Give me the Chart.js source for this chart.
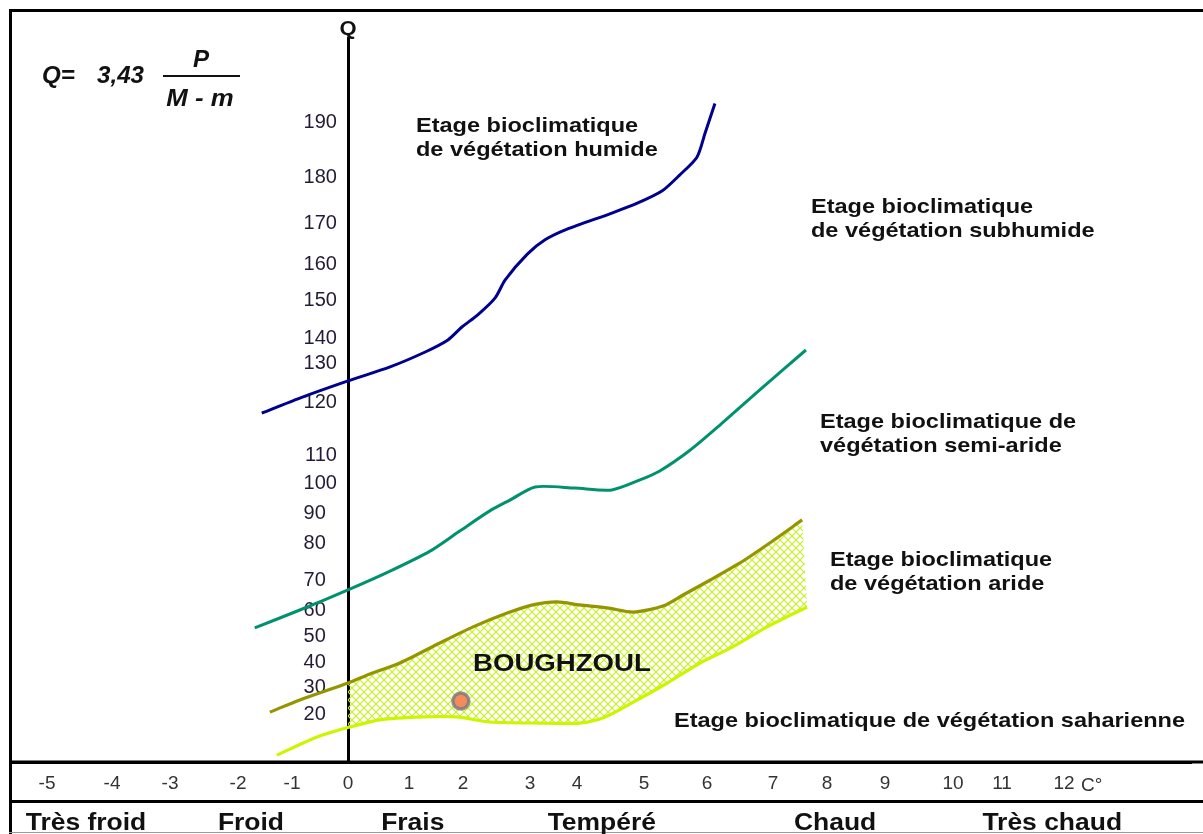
<!DOCTYPE html>
<html><head><meta charset="utf-8">
<script src="https://cdn.jsdelivr.net/npm/chart.js@4/dist/chart.umd.min.js"></script>
<style>html,body{margin:0;padding:0;background:#fff;}#wrap{width:1203px;height:834px;}</style>
</head><body><div id="wrap"><canvas id="c" width="1203" height="834"></canvas></div>
<script>
const FONT = "'Liberation Sans', Arial, Helvetica, sans-serif";

// ---- tick labels ----
const qTicks = [20, 30, 40, 50, 60, 70, 80, 90, 100, 110, 120, 130, 140, 150, 160, 170, 180, 190];
const mTicks = [-5, -4, -3, -2, -1, 0, 1, 2, 3, 4, 5, 6, 7, 8, 9, 10, 11, 12];

// ---- boundary curves (m in °C, Q) ----
const humidM = [-1.56, -0.86, 0, 0.69, 1.30, 1.72, 1.98, 2.22, 2.48, 2.63, 2.96, 3.32, 3.79, 4.49, 4.90, 5.29, 5.57, 5.84, 5.97, 6.12];
const humidQ = [117.9, 121.0, 125.4, 129.0, 134.4, 139.2, 142.9, 146.1, 150.6, 155.6, 162.4, 165.9, 168.5, 172.0, 174.3, 177.0, 180.4, 183.6, 188.0, 193.3];

const subhumidM = [-1.69, -0.86, 0, 0.69, 1.39, 1.94, 2.40, 2.70, 3.11, 3.96, 4.52, 4.94, 5.25, 5.73, 6.20, 6.80, 7.61];
const subhumidQ = [53.1, 60.0, 66.7, 72.4, 77.8, 84.0, 90.7, 94.3, 98.7, 98.3, 97.7, 101.1, 104.3, 110.9, 115.7, 123.1, 135.2];

const semiAridM = [-1.41, -0.86, 0, 0.36, 0.85, 1.57, 2.15, 2.66, 3.06, 3.57, 4.04, 4.45, 4.84, 5.30, 5.62, 6.05, 6.50, 6.95, 7.54];
const semiAridQ = [20.7, 25.2, 31.6, 35.2, 39.6, 47.3, 53.5, 58.8, 61.7, 62.7, 61.7, 60.7, 59.2, 61.3, 65.0, 70.0, 74.6, 80.0, 87.7];

const aridM = [-1.28, -0.55, 0.03, 0.52, 1.26, 1.89, 2.40, 3.21, 4.04, 4.42, 4.84, 5.37, 5.89, 6.39, 6.91, 7.63];
const aridQ = [4.6, 11.4, 15.1, 17.8, 18.9, 18.9, 17.0, 16.6, 16.6, 18.9, 24.4, 31.6, 39.6, 45.8, 53.5, 61.0];

// ---- station ----
const stationName = ['BOUGHZOUL'];
const stationM = [1.96];
const stationQ = [24.8];

// ---- thermal classes (centre of each winter class, m in °C) ----
const thermalClasses = ['Très froid', 'Froid', 'Frais', 'Tempéré', 'Chaud', 'Très chaud'];
const thermalCentres = [-4.4, -1.76, 1.07, 4.37, 8.14, 11.81];

// ---- stage names ----
const stageHumid = ['Etage bioclimatique', 'de végétation humide'];
const stageSubhumid = ['Etage bioclimatique', 'de végétation subhumide'];
const stageSemiArid = ['Etage bioclimatique de', 'végétation semi-aride'];
const stageArid = ['Etage bioclimatique', 'de végétation aride'];
const stageSaharan = ['Etage bioclimatique de végétation saharienne'];

const zip = (a, b) => a.map((v, i) => ({x: v, y: b[i]}));

// The hand-drawn Emberger graduations are not evenly spaced: piecewise scale
// (value -> reference position on the 1203 x 834 figure)
const WARP = {
  x: {size: 1203, knots: [[-5.57,10],[-5,47],[-4,112],[-3,170],[-2,238],[-1,292],[0,348],[1,409],[2,463],[3,530],[4,577],[5,644],[6,707],[7,773],[8,827],[9,885],[10,953],[11,1002],[12,1064],[14.24,1203]]},
  y: {size: 834, knots: [[2,762],[20,714],[30,687],[40,662],[50,636],[60,610],[70,580],[80,543],[90,513],[100,483],[110,455],[120,402],[130,363],[140,338],[150,300],[160,264],[170,223],[180,177],[190,122],[205,38]]}
};
function warpRef(id, v) {
  const k = WARP[id].knots;
  let i = 0;
  while (i < k.length - 2 && v > k[i + 1][0]) i++;
  return k[i][1] + (v - k[i][0]) * (k[i + 1][1] - k[i][1]) / (k[i + 1][0] - k[i][0]);
}
function unwarpRef(id, px) {
  const k = WARP[id].knots;
  const dir = Math.sign(k[1][1] - k[0][1]);
  let i = 0;
  while (i < k.length - 2 && (px - k[i + 1][1]) * dir > 0) i++;
  return k[i][0] + (px - k[i][1]) * (k[i + 1][0] - k[i][0]) / (k[i + 1][1] - k[i][1]);
}
class WarpScale extends Chart.LinearScale {
  _ratio() { return this.isHorizontal() ? this.chart.width / WARP.x.size : this.chart.height / WARP.y.size; }
  getPixelForValue(v) {
    if (v === null || v === undefined || isNaN(v)) return NaN;
    return warpRef(this.id, +v) * this._ratio();
  }
  getValueForPixel(p) {
    return unwarpRef(this.id, p / this._ratio());
  }
}
WarpScale.id = 'warp';
WarpScale.defaults = {};
Chart.register(WarpScale);

function txt(ctx, s, x, y, size, o) {
  o = o || {};
  ctx.save();
  ctx.font = (o.italic ? 'italic ' : '') + (o.bold === false ? '' : 'bold ') + size + 'px ' + FONT;
  ctx.fillStyle = o.color || '#111';
  ctx.textAlign = o.align || 'left';
  ctx.textBaseline = 'alphabetic';
  ctx.translate(x, y);
  ctx.scale(o.sx || 1.12, 1);
  ctx.fillText(s, 0, 0);
  ctx.restore();
}

const hatchPlugin = {
  id: 'hatch',
  beforeDatasetsDraw(chart) {
    const ctx = chart.ctx;
    const upper = chart.getDatasetMeta(2).dataset;
    const lower = chart.getDatasetMeta(3).dataset;
    const xs = chart.scales.x;
    const T = 8;
    const tile = document.createElement('canvas');
    tile.width = tile.height = T;
    const g = tile.getContext('2d');
    g.strokeStyle = '#c4f01e'; g.lineWidth = 1.1;
    g.beginPath(); g.moveTo(0, 0); g.lineTo(T, T); g.moveTo(T, 0); g.lineTo(0, T); g.stroke();
    const pat = ctx.createPattern(tile, 'repeat');
    const up = chart.getDatasetMeta(2).data, lo = chart.getDatasetMeta(3).data;
    const x0 = xs.getPixelForValue(0);
    const x1 = Math.max(up[up.length - 1].x, lo[lo.length - 1].x);
    ctx.save();
    ctx.beginPath(); ctx.rect(x0, chart.chartArea.top, x1 - x0, chart.chartArea.bottom - chart.chartArea.top); ctx.clip();
    ctx.beginPath();
    upper.pathSegment(ctx, upper.segments[0], {move: true});
    lower.pathSegment(ctx, lower.segments[0], {move: false, reverse: true});
    ctx.closePath();
    ctx.fillStyle = pat;
    ctx.fill();
    ctx.restore();
  }
};

const textPlugin = {
  id: 'texts',
  afterDraw(chart) {
    const ctx = chart.ctx;
    const xs = chart.scales.x;
    ctx.save();
    ctx.fillStyle = '#000';
    ctx.fillRect(9, 9, 1194, 3);
    ctx.fillRect(9, 9, 3, 825);
    ctx.fillRect(9, 760.5, 1194, 3);
    ctx.fillRect(9, 800, 1194, 3);
    ctx.fillStyle = '#9a9a9a';
    ctx.fillRect(9, 832, 1194, 1);
    ctx.restore();

    // formula
    txt(ctx, 'Q=', 42, 83, 23, {italic: true, color: '#111', sx: 1.05});
    txt(ctx, '3,43', 97, 83, 23, {italic: true, color: '#111', sx: 1.05});
    ctx.fillStyle = '#111'; ctx.fillRect(163, 75, 77, 2);
    txt(ctx, 'P', 201, 67, 23, {italic: true, align: 'center', color: '#111', sx: 1.05});
    txt(ctx, 'M - m', 200, 106, 23, {italic: true, align: 'center', color: '#111', sx: 1.12});

    // axis names
    txt(ctx, 'Q', xs.getPixelForValue(0), 35, 21, {align: 'center', color: '#111', sx: 1.05});
    txt(ctx, 'C°', xs.getPixelForValue(12) + 17, 791, 19, {bold: false, color: '#333', sx: 1});

    // stage names
    const stages = [[stageHumid, 416, 132], [stageSubhumid, 811, 213], [stageSemiArid, 820, 428], [stageArid, 830, 566], [stageSaharan, 674, 727]];
    stages.forEach(([lines, x, y]) => lines.forEach((s, i) => txt(ctx, s, x, y + i * 24, 21)));

    // station
    txt(ctx, stationName[0], 473, 671, 24, {sx: 1.15});

    // thermal classes
    thermalClasses.forEach((s, i) => txt(ctx, s, xs.getPixelForValue(thermalCentres[i]), 830, 23, {align: 'center', sx: 1.15}));
  }
};

new Chart(document.getElementById('c'), {
  type: 'line',
  data: {
    datasets: [
      {label: 'humide / subhumide', data: zip(humidM, humidQ), borderColor: '#00008f', borderWidth: 3, pointRadius: 0, tension: 0.25, fill: false},
      {label: 'subhumide / semi-aride', data: zip(subhumidM, subhumidQ), borderColor: '#00916f', borderWidth: 3, pointRadius: 0, tension: 0.25, fill: false},
      {label: 'semi-aride / aride', data: zip(semiAridM, semiAridQ), borderColor: '#959500', borderWidth: 3.2, pointRadius: 0, tension: 0.25, fill: false},
      {label: 'aride / saharien', data: zip(aridM, aridQ), borderColor: '#ccf500', borderWidth: 3.2, pointRadius: 0, tension: 0.25, fill: false},
      {label: 'Boughzoul', data: zip(stationM, stationQ), showLine: false, pointRadius: 8, pointBackgroundColor: '#f58a5f', pointBorderColor: 'rgba(120,120,120,0.8)', pointBorderWidth: 3.5}
    ]
  },
  options: {
    responsive: false, animation: false, devicePixelRatio: 1,
    layout: {padding: {left: 10, right: 0, top: 38, bottom: 31}},
    plugins: {legend: {display: false}, tooltip: {enabled: false}},
    scales: {
      x: {
        type: 'warp', position: 'bottom', min: -5.57, max: 14.24,
        grid: {display: false, drawTicks: false},
        border: {display: true, color: '#000', width: 3},
        ticks: {autoSkip: false, maxRotation: 0, padding: 10, color: '#333', font: {family: FONT, size: 19}},
        afterBuildTicks: s => { s.ticks = mTicks.map(v => ({value: v})); },
        afterFit: s => { s.height = 41; }
      },
      y: {
        type: 'warp', position: {x: 0}, min: 2, max: 205,
        grid: {display: false, drawTicks: false, lineWidth: 0},
        border: {display: true, color: '#000', width: 3},
        ticks: {autoSkip: false, padding: 12, color: '#231b35', font: {family: FONT, size: 20},
          callback: v => String(v).padEnd(3, '\u2007') + '\u2007'},
        afterBuildTicks: s => { s.ticks = qTicks.map(v => ({value: v})); }
      }
    }
  },
  plugins: [hatchPlugin, textPlugin]
});
</script></body></html>
